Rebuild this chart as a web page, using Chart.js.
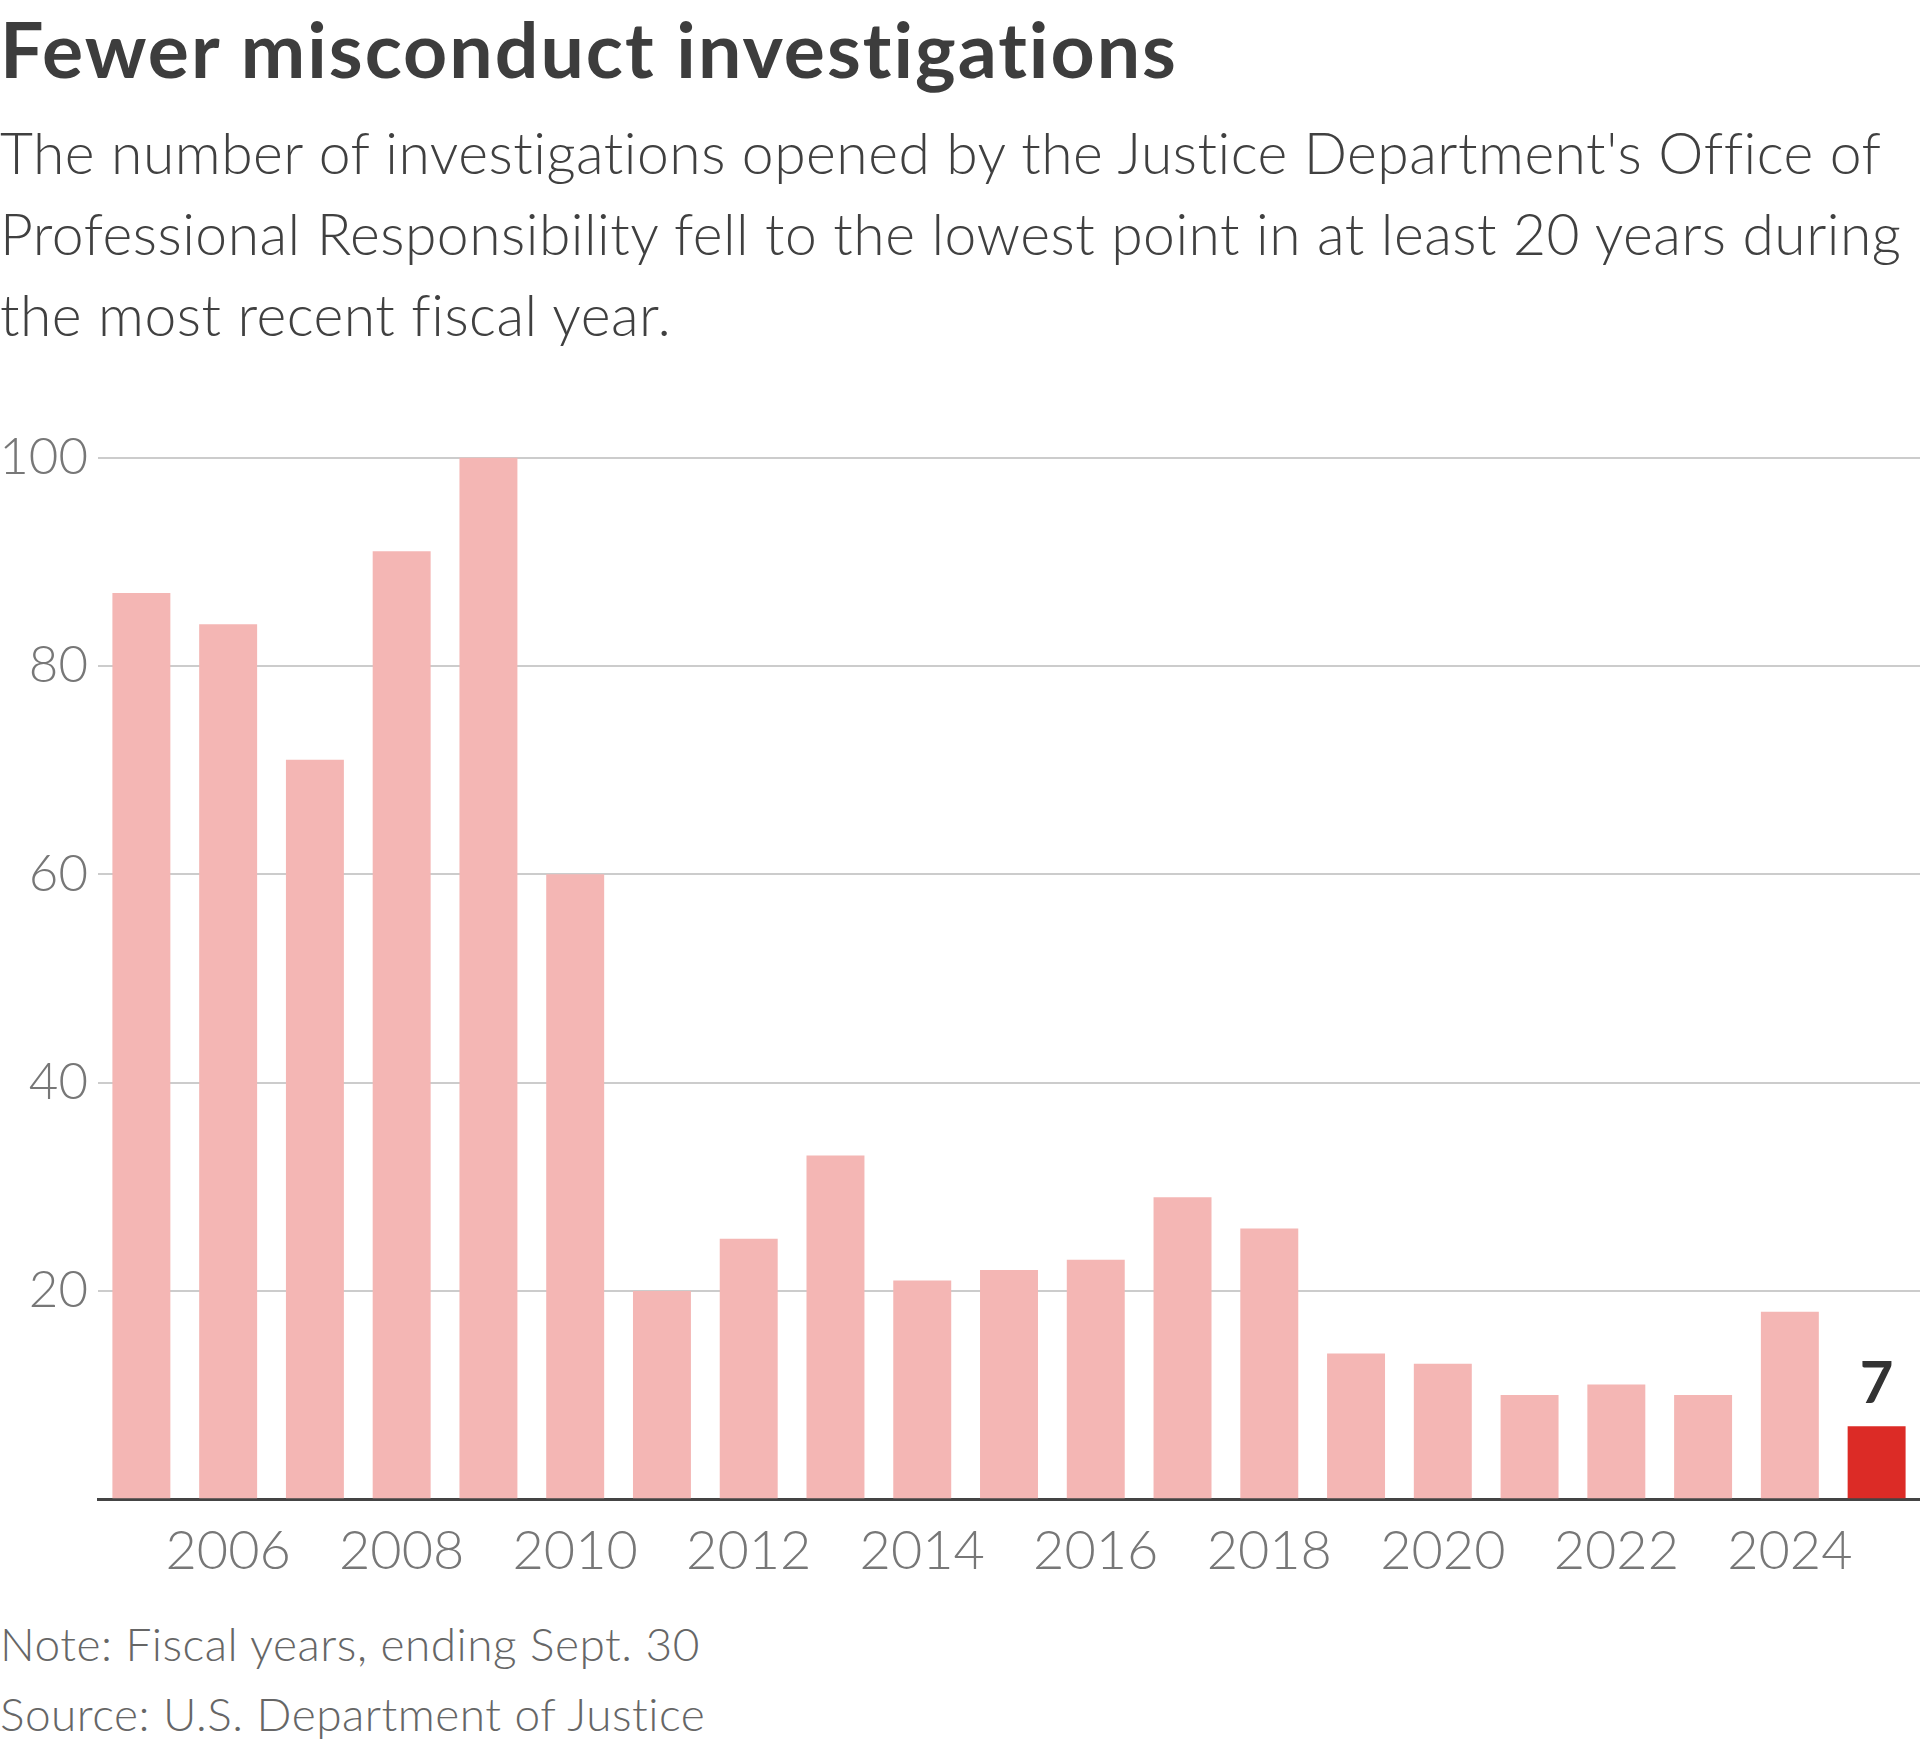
<!DOCTYPE html>
<html>
<head>
    <title>Fewer misconduct investigations</title>
    <script src="https://cdn.jsdelivr.net/npm/chart.js@4/dist/chart.umd.min.js"></script>
    <style>
        body {
            margin: 0;
            width: 1920px;
            height: 1747px;
            background: #fff;
            position: relative;
            font-family: "Lato", "Noto Sans", sans-serif;
            overflow: hidden;
        }
        .title {
            position: absolute;
            left: 0;
            top: 10px;
            font-size: 77px;
            line-height: 76px;
            font-weight: 700;
            letter-spacing: 2px;
            color: #3d3d3d;
            white-space: nowrap;
        }
        .subtitle {
            position: absolute;
            left: 0;
            top: 112px;
            font-size: 57px;
            line-height: 81px;
            font-weight: 300;
            letter-spacing: 0.5px;
            color: #404040;
            white-space: nowrap;
        }
        .chart-box {
            position: absolute;
            left: 0;
            top: 417px;
            width: 1920px;
            height: 1179px;
        }
        .notes {
            position: absolute;
            left: 0;
            top: 1609px;
            font-size: 46px;
            line-height: 70px;
            font-weight: 300;
            letter-spacing: 0.5px;
            color: #666;
            white-space: nowrap;
        }
    </style>
</head>
<body>
    <div class="title">Fewer misconduct investigations</div>
    <div class="subtitle">The number of investigations opened by the Justice Department's Office of<br>Professional Responsibility fell to the lowest point in at least 20 years during<br>the most recent fiscal year.</div>

    <div class="chart-box">
        <canvas id="opaChart"></canvas>
    </div>

    <div class="notes">Note: Fiscal years, ending Sept. 30<br>Source: U.S. Department of Justice</div>

    <script>
    // fiscal years and investigations opened
    const years = ['2005', '2006', '2007', '2008', '2009', '2010', '2011', '2012', '2013', '2014', '2015',
                   '2016', '2017', '2018', '2019', '2020', '2021', '2022', '2023', '2024', '2025'];
    const investigations = [87, 84, 71, 91, 100, 60, 20, 25, 33, 21, 22, 23, 29, 26, 14, 13, 10, 11, 10, 18, 7];
    const yTicks = [0, 20, 40, 60, 80, 100];

    const pink = '#f4b6b4';
    const red = '#dc2b26';

    // label the latest bar with its value
    const lastValueLabel = {
        id: 'lastValueLabel',
        afterDatasetsDraw(chart) {
            const meta = chart.getDatasetMeta(0);
            const i = investigations.length - 1;
            const bar = meta.data[i];
            const ctx = chart.ctx;
            ctx.save();
            ctx.font = '700 58px Lato';
            ctx.fillStyle = '#333';
            ctx.textAlign = 'center';
            ctx.textBaseline = 'alphabetic';
            ctx.fillText(String(investigations[i]), bar.x, bar.y - 23);
            ctx.restore();
        }
    };

    const ctx = document.getElementById('opaChart').getContext('2d');
    new Chart(ctx, {
        type: 'bar',
        data: {
            labels: years,
            datasets: [{
                data: investigations,
                backgroundColor: investigations.map((v, i) => i === investigations.length - 1 ? red : pink),
                barPercentage: 0.668,
                categoryPercentage: 1.0
            }]
        },
        options: {
            responsive: true,
            maintainAspectRatio: false,
            animation: false,
            layout: { padding: 0 },
            plugins: {
                legend: { display: false },
                tooltip: { enabled: false }
            },
            scales: {
                x: {
                    grid: { display: false },
                    border: { color: '#444', width: 3 },
                    ticks: {
                        autoSkip: false,
                        maxRotation: 0,
                        padding: 12,
                        color: '#777',
                        font: { family: 'Lato', size: 54, weight: 300 },
                        callback: (value, index) => Number(years[index]) % 2 === 0 ? years[index] : ''
                    }
                },
                y: {
                    min: yTicks[0],
                    max: yTicks[yTicks.length - 1],
                    afterBuildTicks: (scale) => { scale.ticks = yTicks.map(v => ({ value: v })); },
                    afterFit: (scale) => { scale.width = 98; },
                    border: { display: false },
                    grid: { color: '#cccccc', lineWidth: 2, drawTicks: false },
                    ticks: {
                        padding: 10,
                        color: '#777',
                        font: { family: 'Lato', size: 51, weight: 300 },
                        callback: (value) => value === 0 ? '' : value
                    }
                }
            }
        },
        plugins: [lastValueLabel]
    });
    </script>
</body>
</html>
